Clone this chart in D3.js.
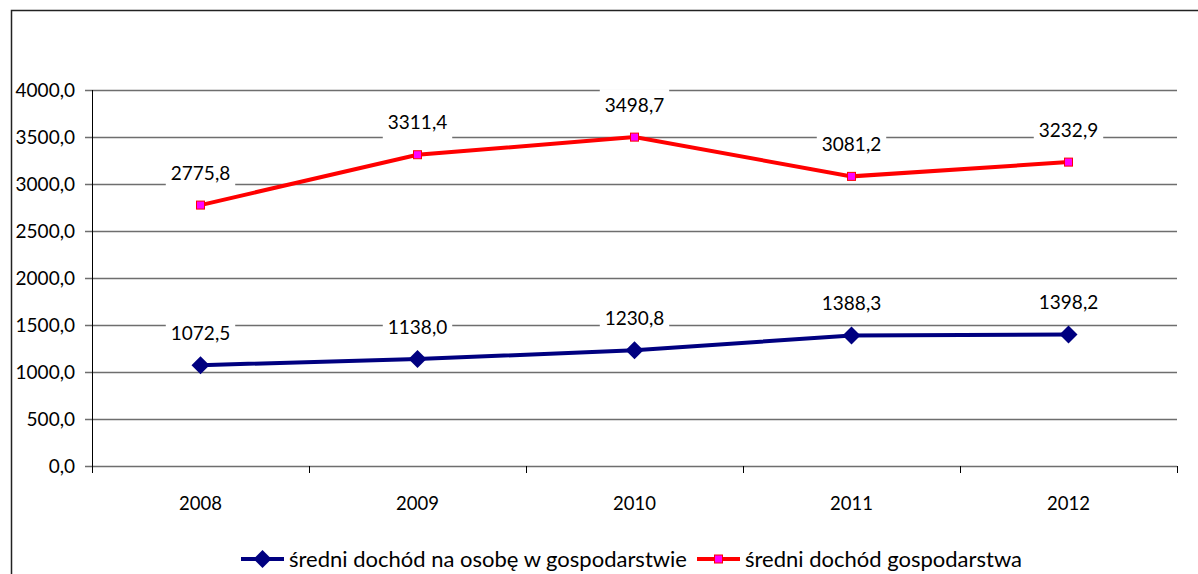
<!DOCTYPE html>
<html>
<head>
<meta charset="utf-8">
<script src="https://cdn.jsdelivr.net/npm/d3@7"></script>
<style>
  body { margin: 0; background: #fff; }
  text { font-family: Lato, "Open Sans", sans-serif; fill: #000; }
</style>
</head>
<body>
<div id="chart"></div>
<script>
// dane
var years = ["2008", "2009", "2010", "2011", "2012"];
var perPerson = [1072.5, 1138.0, 1230.8, 1388.3, 1398.2];
var perHousehold = [2775.8, 3311.4, 3498.7, 3081.2, 3232.9];
var yTicks = [0, 500, 1000, 1500, 2000, 2500, 3000, 3500, 4000];
var seriesNames = ["średni dochód na osobę w gospodarstwie", "średni dochód gospodarstwa"];

var W = 1198, H = 574;
var margin = { top: 90, right: 21, bottom: 108, left: 92 },
  width = W - margin.left - margin.right,
  height = H - margin.top - margin.bottom;

var fmt = function(v) { return d3.format(".1f")(v).replace(".", ","); };

var root = d3.select("#chart").append("svg")
  .attr("width", W).attr("height", H);

// ramka wykresu
root.append("path")
  .attr("d", "M11.5," + H + "V10.5H" + W)
  .attr("fill", "none").attr("stroke", "#222").attr("stroke-width", 1.5);

var svg = root.append("g")
  .attr("transform", "translate(" + margin.left + "," + margin.top + ")");

var x = d3.scaleBand().domain(years).range([0, width]);
var y = d3.scaleLinear().domain([0, 4000]).range([height, 0]);

// linie siatki
svg.selectAll(".grid").data(yTicks).enter().append("line")
  .attr("x1", -7).attr("x2", width)
  .attr("y1", function(d) { return Math.round(y(d)) + 0.5; })
  .attr("y2", function(d) { return Math.round(y(d)) + 0.5; })
  .attr("stroke", "#6e6e6e").attr("stroke-width", 1.3);

// os Y
var yAxis = svg.append("g")
  .call(d3.axisLeft(y).tickValues(yTicks).tickFormat(fmt).tickSize(7).tickSizeOuter(0));
yAxis.select(".domain").remove();
yAxis.selectAll("line").remove();
yAxis.selectAll("text").attr("font-size", 19).attr("x", -17).attr("fill", "#000");
yAxis.attr("font-family", null);
svg.append("line").attr("x1", 0.5).attr("x2", 0.5).attr("y1", 0).attr("y2", height + 6)
  .attr("stroke", "#000");

// os X
var xAxis = svg.append("g").attr("transform", "translate(0," + height + ")")
  .call(d3.axisBottom(x).tickSize(0));
xAxis.select(".domain").remove();
xAxis.selectAll("text").attr("font-size", 18.5).attr("dy", 0).attr("y", 44).attr("fill", "#000");
xAxis.attr("font-family", null);
svg.selectAll(".xt").data(d3.range(years.length + 1)).enter().append("line")
  .attr("x1", function(i) { return Math.round(i * x.bandwidth()) + 0.5; })
  .attr("x2", function(i) { return Math.round(i * x.bandwidth()) + 0.5; })
  .attr("y1", height).attr("y2", height + 7)
  .attr("stroke", "#000");

var cx = function(i) { return x(years[i]) + x.bandwidth() / 2; };
var line = d3.line().x(function(d, i) { return cx(i); }).y(function(d) { return y(d); });

var series = [
  { values: perPerson, color: "#000080", marker: "diamond" },
  { values: perHousehold, color: "#ff0000", marker: "square" }
];

// etykiety danych (z bialym tlem)
series.forEach(function(s) {
  var lab = svg.selectAll(null).data(s.values).enter().append("g")
    .attr("transform", function(d, i) { return "translate(" + cx(i) + "," + (y(d) - 32) + ")"; });
  var rect = lab.append("rect").attr("fill", "#fff");
  var txt = lab.append("text").attr("text-anchor", "middle").attr("dy", "0.35em")
    .attr("font-size", 19).text(fmt);
  rect.each(function() {
    var b = this.parentNode.querySelector("text").getBBox();
    d3.select(this).attr("x", b.x - 5).attr("y", -16).attr("width", b.width + 10).attr("height", 34);
  });
});

series.forEach(function(s) {
  svg.append("path").datum(s.values)
    .attr("d", line).attr("fill", "none")
    .attr("stroke", s.color).attr("stroke-width", 4);
  var m = svg.selectAll(null).data(s.values).enter();
  if (s.marker === "diamond") {
    m.append("path")
      .attr("d", "M0,-9L9,0L0,9L-9,0Z")
      .attr("transform", function(d, i) { return "translate(" + cx(i) + "," + y(d) + ")"; })
      .attr("fill", "#000080");
  } else {
    m.append("rect").attr("width", 8).attr("height", 8)
      .attr("x", function(d, i) { return cx(i) - 4; })
      .attr("y", function(d) { return y(d) - 4; })
      .attr("fill", "#ff00ff").attr("stroke", "#ff0000").attr("stroke-width", 1);
  }
});

// legenda
var leg = root.append("g").attr("transform", "translate(0,559)");
var legX = [241, 697];
seriesNames.forEach(function(name, i) {
  var g = leg.append("g").attr("transform", "translate(" + legX[i] + ",0)");
  g.append("line").attr("x1", 0).attr("x2", 43).attr("stroke", series[i].color).attr("stroke-width", 4);
  if (i === 0) {
    g.append("path").attr("d", "M21.5,-9L30.5,0L21.5,9L12.5,0Z").attr("fill", "#000080");
  } else {
    g.append("rect").attr("x", 17.5).attr("y", -4).attr("width", 8).attr("height", 8)
      .attr("fill", "#ff00ff").attr("stroke", "#ff0000");
  }
  g.append("text").attr("x", 48).attr("dy", "0.35em").attr("font-size", 22).text(name);
});
</script>
</body>
</html>
